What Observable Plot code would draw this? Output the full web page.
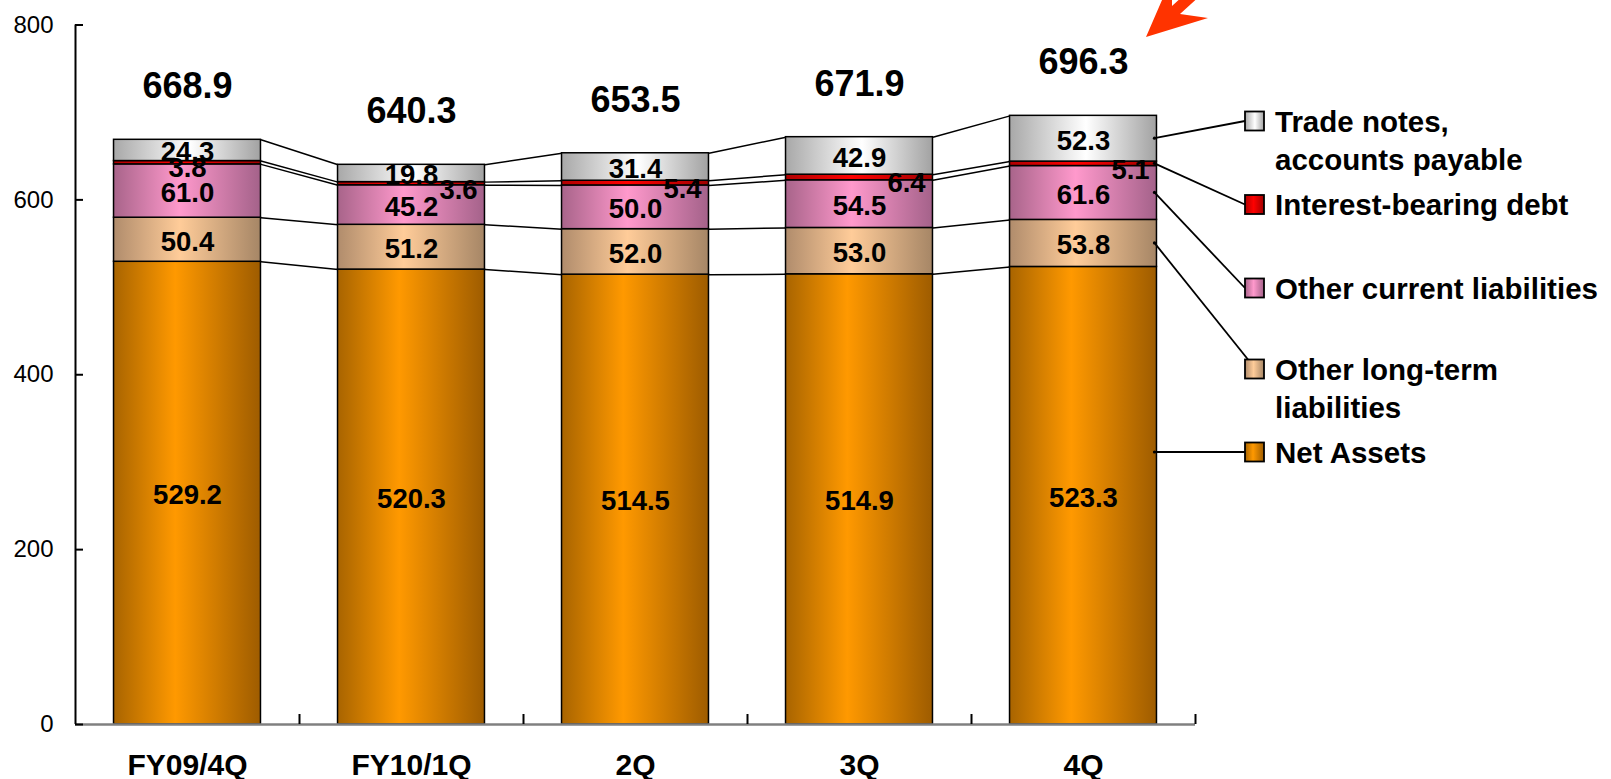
<!DOCTYPE html>
<html><head><meta charset="utf-8">
<script src="https://cdn.jsdelivr.net/npm/d3@7"></script>
<script src="https://cdn.jsdelivr.net/npm/@observablehq/plot@0.6"></script>
<style>body{margin:0;background:#fff} svg{display:block}</style>
</head><body><div id="chart"></div>
<script>
// ---- data ----
const quarters = ["FY09/4Q", "FY10/1Q", "2Q", "3Q", "4Q"];
const seriesNames = ["Net Assets", "Other long-term liabilities", "Other current liabilities", "Interest-bearing debt", "Trade notes, accounts payable"];
const netAssets = [529.2, 520.3, 514.5, 514.9, 523.3];
const otherLongTerm = [50.4, 51.2, 52.0, 53.0, 53.8];
const otherCurrent = [61.0, 45.2, 50.0, 54.5, 61.6];
const interestBearing = [3.8, 3.6, 5.4, 6.4, 5.1];
const tradeNotes = [24.3, 19.8, 31.4, 42.9, 52.3];
const totals = [668.9, 640.3, 653.5, 671.9, 696.3];
const yTicks = [0, 200, 400, 600, 800];
const legendLines = [["Net Assets"], ["Other long-term", "liabilities"], ["Other current liabilities"], ["Interest-bearing debt"], ["Trade notes,", "accounts payable"]];

// ---- layout / style ----
const W = 1611, H = 779, mL = 75, mR = 416, mT = 24.5, mB = 55;
const pxPerX = (W - mL - mR) / 5, pxPerY = (H - mT - mB) / 800;
const hw = 0.328; // half bar width (in band units)
const FONT = "'Liberation Sans', Arial, Helvetica, sans-serif";
const gradId = ["gNet", "gOlt", "gOcl", "gIbd", "gTn"];
const gradStops = [
  [["0", "#A86400"], ["0.42", "#FF9900"], ["1", "#9E5C00"]],
  [["0", "#B08C6C"], ["0.45", "#FFCC99"], ["1", "#A68666"]],
  [["0", "#A8648A"], ["0.45", "#FF99CC"], ["1", "#A4628A"]],
  [["0", "#B00000"], ["0.45", "#FF0000"], ["1", "#A00000"]],
  [["0", "#A8A8A8"], ["0.52", "#FFFFFF"], ["1", "#A2A2A2"]]
];

const seriesValues = [netAssets, otherLongTerm, otherCurrent, interestBearing, tradeNotes];
const rows = [];
const tops = seriesValues.map(() => []);
const mids = seriesValues.map(() => []);
quarters.forEach((q, i) => {
  let cum = 0;
  seriesValues.forEach((vals, k) => {
    const y1 = cum, y2 = cum + vals[i];
    rows.push({i, q, k, value: vals[i], y1, y2, mid: (y1 + y2) / 2});
    tops[k].push(y2); mids[k].push((y1 + y2) / 2);
    cum = y2;
  });
});
const connectors = [];
seriesValues.forEach((_, k) => {
  for (let i = 0; i < quarters.length - 1; i++) {
    connectors.push({x1: i + hw, y1: tops[k][i], x2: i + 1 - hw, y2: tops[k][i + 1]});
  }
});

const barMarks = seriesValues.map((_, k) =>
  Plot.rect(rows.filter(d => d.k === k), {
    x1: d => d.i - hw, x2: d => d.i + hw, y1: "y1", y2: "y2",
    fill: `url(#${gradId[k]})`, stroke: "black", strokeWidth: 1.5
  })
);

const plot = Plot.plot({
  width: W, height: H,
  marginLeft: mL, marginRight: mR, marginTop: mT, marginBottom: mB,
  x: {domain: [-0.5, 4.5], axis: null},
  y: {domain: [0, 800], axis: null},
  style: {fontFamily: FONT, background: "white", color: "black", overflow: "visible"},
  marks: [
    Plot.link(connectors, {x1: "x1", y1: "y1", x2: "x2", y2: "y2", stroke: "black", strokeWidth: 1.5}),
    ...barMarks,
    // axes
    Plot.ruleY([0], {x1: -0.5, x2: 4.5, stroke: "#808080", strokeWidth: 2.5}),
    Plot.ruleX([0.5, 1.5, 2.5, 3.5, 4.5], {y1: 0, y2: 10 / pxPerY, stroke: "black", strokeWidth: 2}),
    Plot.ruleX([-0.5], {y1: 0, y2: 800, stroke: "black", strokeWidth: 2}),
    Plot.ruleY(yTicks, {x1: -0.5, x2: -0.5 + 8 / pxPerX, stroke: "black", strokeWidth: 2}),
    Plot.text(yTicks, {x: -0.5, y: d => d, text: d => String(d), textAnchor: "end", dx: -22, fontSize: 24, fill: "black", lineAnchor: "middle"}),
    Plot.text(quarters, {x: (d, i) => i, y: 0, text: d => d, dy: 41, fontSize: 30, fontWeight: "bold", fill: "black", lineAnchor: "middle"}),
    // segment labels
    Plot.text(rows.filter(d => d.k !== 3), {x: "i", y: "mid", text: d => d.value.toFixed(1), dy: 2, fontSize: 27.5, fontWeight: "bold", fill: "black", lineAnchor: "middle"}),
    Plot.text(rows.filter(d => d.k === 3 && d.i === 0), {x: "i", y: "mid", text: d => d.value.toFixed(1), dy: 5, fontSize: 27.5, fontWeight: "bold", fill: "black", lineAnchor: "middle"}),
    Plot.text(rows.filter(d => d.k === 3 && d.i > 0), {x: "i", y: "mid", text: d => d.value.toFixed(1), dx: 47, dy: 6, fontSize: 27.5, fontWeight: "bold", fill: "black", lineAnchor: "middle"}),
    // totals
    Plot.text(totals, {x: (d, i) => i, y: d => d, text: d => d.toFixed(1), dy: -53, fontSize: 36, fontWeight: "bold", fill: "black", lineAnchor: "middle"})
  ]
});
document.getElementById("chart").appendChild(plot);

// ---- gradients, legend, leader lines, arrow ----
const svg = d3.select(plot);
const defs = svg.insert("defs", ":first-child");
gradId.forEach((id, k) => {
  const g = defs.append("linearGradient").attr("id", id).attr("x1", 0).attr("x2", 1).attr("y1", 0).attr("y2", 0);
  gradStops[k].forEach(([o, c]) => g.append("stop").attr("offset", o).attr("stop-color", c));
});
const xs = plot.scale("x"), ys = plot.scale("y");
const legendY = [452, 369, 288, 204.5, 121];
const sqX = 1245, sqS = 19, txtX = 1275, lineGap = 38.5;
const lg = svg.append("g").attr("text-anchor", "start");
const barRight = xs.apply(4 + hw) - 2;
seriesNames.forEach((name, k) => {
  const ly = legendY[k];
  const sy = k === 0 ? ly : ys.apply(mids[k][4]);
  const ex = k === 1 ? sqX + 3 : sqX;
  const ey = k === 1 ? ly - sqS / 2 : ly;
  lg.append("line").attr("x1", barRight).attr("y1", sy).attr("x2", ex).attr("y2", ey)
    .attr("stroke", "black").attr("stroke-width", 1.8);
  lg.append("circle").attr("cx", barRight).attr("cy", sy).attr("r", 1.6).attr("fill", "black");
  lg.append("rect").attr("x", sqX).attr("y", ly - sqS / 2).attr("width", sqS).attr("height", sqS)
    .attr("fill", `url(#${gradId[k]})`).attr("stroke", "black").attr("stroke-width", 1.8);
  const t = lg.append("text").attr("x", txtX).attr("y", ly).attr("font-size", 29.5).attr("font-weight", "bold")
    .attr("font-family", FONT).attr("fill", "black").attr("text-anchor", "start");
  legendLines[k].forEach((ln, j) => t.append("tspan").attr("x", txtX).attr("y", ly + j * lineGap).attr("dy", "0.36em").text(ln));
});
// decorative arrow
svg.append("polygon")
  .attr("points", "1146,37 1208,18 1180,14 1224,-26 1216,-34 1172,6 1172,-23")
  .attr("fill", "#FF3300");
</script>
</body></html>
